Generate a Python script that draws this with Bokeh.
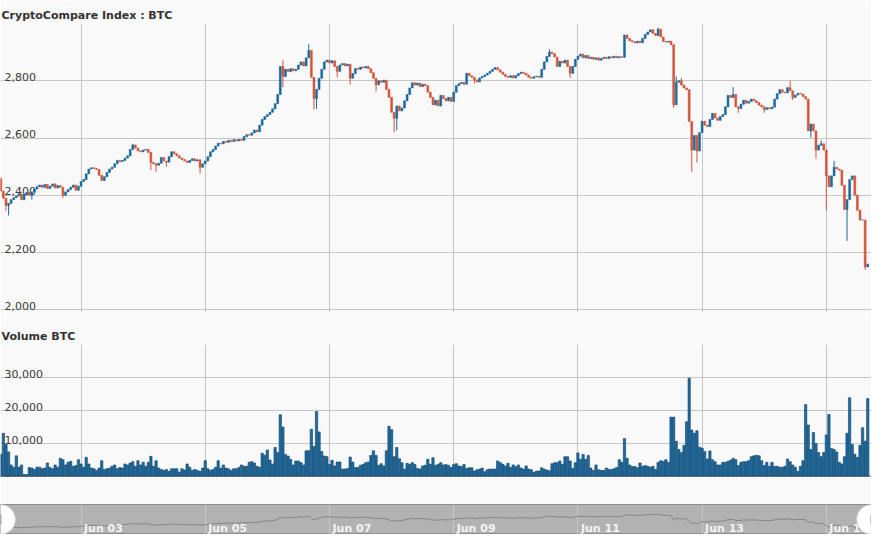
import math
import pandas as pd
from bokeh.plotting import figure
from bokeh.models import Range1d, Grid, FixedTicker, ColumnDataSource, Span
from bokeh.layouts import column
from bokeh.embed import file_html
from bokeh.resources import INLINE
from bokeh.core.properties import value

# ---------------- data (hourly BTC candles) ----------------
start_time = "2017-06-01 17:00"
first_open = 2458

close = [
    2415, 2390, 2365, 2372, 2385, 2392, 2398, 2405, 2385, 2402,
    2410, 2400, 2412, 2422, 2430, 2436, 2428, 2438, 2424, 2432,
    2440, 2426, 2434, 2428, 2400, 2412, 2420, 2428, 2436, 2418,
    2432, 2448, 2455, 2475, 2492, 2496, 2494, 2490, 2470, 2452,
    2465, 2480, 2492, 2498, 2510, 2522, 2518, 2522, 2530, 2538,
    2560, 2576, 2565, 2555, 2552, 2558, 2560, 2550, 2515, 2510,
    2505, 2512, 2532, 2520, 2516, 2535, 2552, 2545, 2538, 2530,
    2525, 2520, 2515, 2522, 2528, 2520, 2524, 2498, 2510, 2520,
    2535, 2552, 2560, 2572, 2582, 2580, 2588, 2585, 2592, 2588,
    2594, 2590, 2595, 2592, 2605, 2612, 2610, 2618, 2628, 2622,
    2645, 2665, 2675, 2682, 2690, 2702, 2720, 2752, 2850, 2815,
    2840, 2832, 2842, 2835, 2840, 2855, 2866, 2852, 2880, 2906,
    2812, 2738, 2770, 2809, 2840, 2866, 2872, 2862, 2870, 2850,
    2833, 2855, 2860, 2852, 2858, 2809, 2825, 2843, 2840, 2848,
    2845, 2850, 2842, 2828, 2809, 2786, 2800, 2795, 2802, 2770,
    2742, 2690, 2669, 2712, 2695, 2705, 2730, 2752, 2775, 2793,
    2785, 2792, 2780, 2788, 2783, 2760, 2742, 2716, 2732, 2712,
    2749, 2738, 2730, 2742, 2728, 2760, 2783, 2790, 2794, 2788,
    2826, 2818, 2812, 2803, 2796, 2810, 2815, 2820, 2826, 2833,
    2840, 2846, 2838, 2830, 2822, 2815, 2812, 2818, 2810, 2818,
    2825, 2830, 2826, 2820, 2812, 2809, 2814, 2816, 2812, 2840,
    2866, 2885, 2900, 2895, 2883, 2850, 2868, 2862, 2872, 2850,
    2826, 2850, 2875, 2886, 2893, 2880, 2888, 2878, 2882, 2875,
    2880, 2872, 2878, 2882, 2878, 2884, 2880, 2886, 2880, 2884,
    2882, 2960, 2948, 2940, 2936, 2932, 2938, 2933, 2948, 2962,
    2970, 2978, 2965, 2958, 2980, 2953, 2937, 2935, 2938, 2926,
    2716, 2795, 2800, 2785, 2775, 2769, 2658, 2558, 2609, 2555,
    2619, 2659, 2645, 2640, 2665, 2686, 2670, 2662, 2675, 2682,
    2709, 2749, 2742, 2752, 2709, 2703, 2718, 2732, 2722, 2728,
    2736, 2730, 2724, 2715, 2709, 2700, 2706, 2702, 2708, 2736,
    2755, 2769, 2760, 2758, 2776, 2765, 2742, 2750, 2756, 2754,
    2745, 2736, 2625, 2649, 2625, 2558, 2575, 2580, 2558, 2468,
    2430, 2468, 2498, 2492, 2488, 2435, 2351, 2385, 2455, 2468,
    2401, 2348, 2314, 2314, 2150, 2160,
]

# visible wick extremes (hour index -> price)
wick_high = {0: 2462, 51: 2580, 109: 2872, 119: 2928, 212: 2910, 254: 2985,
             261: 2815, 263: 2810, 283: 2778, 305: 2800, 317: 2592, 322: 2520}
wick_low = {2: 2345, 3: 2330, 12: 2385, 24: 2390, 58: 2488, 60: 2482, 64: 2500,
            77: 2476, 109: 2778, 121: 2700, 122: 2702, 130: 2812, 135: 2786,
            145: 2762, 152: 2620, 153: 2628, 183: 2790, 220: 2810, 260: 2705,
            267: 2482, 269: 2515, 285: 2688, 295: 2688, 306: 2733, 313: 2602,
            315: 2528, 319: 2348, 327: 2241, 334: 2140}

volume = [
    6760, 13100, 9700, 7450, 3500, 2840, 6270, 2840, 3500, 600,
    600, 2750, 2550, 2150, 2840, 2840, 2350, 2550, 4100, 2750,
    2350, 3500, 2840, 5500, 5100, 3500, 4300, 4600, 3100, 3300,
    5100, 3800, 2840, 5800, 3800, 2600, 2350, 1860, 2550, 4800,
    2150, 2350, 2550, 3100, 3500, 2350, 2750, 2550, 3800, 3500,
    4100, 4500, 3100, 4800, 3500, 4300, 3100, 4300, 6100, 3100,
    4800, 2550, 2150, 1860, 2150, 1570, 2350, 2350, 2350, 1370,
    2350, 2000, 3800, 2840, 1860, 2150, 1860, 1570, 2550, 4800,
    2350, 1860, 2150, 2840, 4800, 2550, 3500, 2550, 2350, 1860,
    2350, 2350, 2750, 3500, 3100, 3100, 4300, 4500, 4100, 3100,
    2840, 7050, 6470, 8040, 5000, 3800, 8800, 7250,
    18700, 15000, 6700, 6200, 5200, 3500, 4700, 4700, 4200, 3500,
    7800, 7800, 14300, 9100, 19700, 13500, 7600, 6200, 6000, 3700,
    4900, 3200, 4400, 4400, 2250, 2250, 2450, 5900, 4400, 2750,
    2750, 3400, 3700, 4200, 4400, 6400, 7800, 6400, 3400, 3900,
    3200, 7800, 15200, 14200, 6000, 8800, 5400, 4200, 2250, 4000,
    3700, 4200, 3600, 2450, 2250, 3200, 3400, 5200, 3700, 5700,
    3400, 3700, 4200, 3500, 3600, 3400, 2750, 3600, 3900, 3200,
    3000, 3600, 2450, 2650, 2650, 1650, 2050, 2250, 2550, 1450,
    2050, 2250, 2250, 2250, 4700, 4200, 3700, 3200, 4000, 2750,
    3500, 2950, 3500, 2600, 2250, 3200, 2250, 2050, 1270, 1650,
    1650, 2650, 2250, 1950, 1750, 3900, 4200, 4200, 4700, 3700,
    6000, 6000, 4700, 2450, 4200, 7150, 5200, 6700, 5200, 6400,
    2550, 1860, 3500, 2050, 1860, 1860, 2550, 2150, 2150, 2350,
    2750, 5100, 4300, 11500, 5500, 3500, 3000, 3000, 2650, 4100,
    3100, 3300, 3100, 2840, 3100, 2150, 4300, 4800, 4600, 5100,
    4300, 18000, 18000, 10700, 8200, 7250, 9400, 16600, 29800, 14100,
    13100, 13900, 8900, 8600, 7550, 5300, 7750, 5100, 4500, 3500,
    3500, 4300, 4300, 4600, 5000, 5500, 5100, 3300, 4300, 4500,
    4500, 4800, 6000, 6270, 6470, 6270, 4800, 3300, 4300, 3100,
    4300, 3100, 3100, 2840, 2840, 3100, 5300, 4500, 3500, 2840,
    1570, 3100, 4800, 21800, 15600, 8200, 13300, 10000, 7250, 6000,
    7250, 12600, 18800, 8500, 8200, 7450, 4300, 3800, 6000, 13100,
    23900, 9700, 6760, 5800, 9400, 14800, 10700, 23600,
]

price_ticks = [2000, 2200, 2400, 2600, 2800, 3000]
price_labels = ["2,000", "2,200", "2,400", "2,600", "2,800"]
vol_ticks = [0, 10000, 20000, 30000, 40000]
vol_labels = ["0", "10,000", "20,000", "30,000"]
day_ticks = ["2017-06-03", "2017-06-05", "2017-06-07", "2017-06-09",
             "2017-06-11", "2017-06-13", "2017-06-15"]
day_labels = ["Jun 03", "Jun 05", "Jun 07", "Jun 09", "Jun 11", "Jun 13", "Jun 15"]

assert len(close) == len(volume), (len(close), len(volume))

# ---------------- derived table ----------------
n = len(close)
times = pd.date_range(start_time, periods=n, freq="h")
opens = [first_open] + close[:-1]
highs, lows = [], []
for i in range(n):
    hi = max(opens[i], close[i])
    lo = min(opens[i], close[i])
    highs.append(max(hi, wick_high.get(i, hi)))
    lows.append(min(lo, wick_low.get(i, lo)))

UP = "#1b6a9c"
DOWN = "#d4563c"
colors = [UP if c >= o else DOWN for o, c in zip(opens, close)]
src = ColumnDataSource(dict(
    t=times, open=opens, close=close, high=highs, low=lows,
    top=[max(o, c) for o, c in zip(opens, close)],
    bottom=[min(o, c) for o, c in zip(opens, close)],
    color=colors, vol=volume,
))

# ---------------- styling ----------------
W = 871
BG = "#f9f9f9"
GRID = "#c6c6c6"
FONT = "DejaVu Sans"
HOUR = 3600 * 1000


def ms(ts):
    return pd.Timestamp(ts).value // 10**6


x_start = pd.Timestamp("2017-06-01 16:53")
x_end = pd.Timestamp("2017-06-15 17:27")
xr = Range1d(start=x_start, end=x_end)
day_ms = [ms(d) for d in day_ticks]


def make_fig(height, y_range, title, min_top, min_bottom, bg=BG):
    p = figure(width=W, height=height, x_range=xr, y_range=y_range,
               x_axis_type=None, y_axis_type=None, toolbar_location=None,
               output_backend="svg", background_fill_color=bg,
               border_fill_color=BG, outline_line_color=None,
               min_border_left=0, min_border_right=0,
               min_border_top=min_top, min_border_bottom=min_bottom,
               title=title)
    if title:
        p.title.text_font = FONT
        p.title.text_font_size = "11px"
        p.title.text_font_style = "bold"
        p.title.text_color = "#333333"
        p.title.align = "left"
        p.title.offset = 1
        p.title.standoff = 4
    return p


def add_grids(p, yticks, color=GRID):
    p.add_layout(Grid(dimension=0, ticker=FixedTicker(ticks=day_ms),
                      grid_line_color=color))
    if yticks is not None:
        p.add_layout(Grid(dimension=1, ticker=FixedTicker(ticks=yticks),
                          grid_line_color=color))


def add_inside_labels(p, ticks, labels):
    s = ColumnDataSource(dict(x=[ms(x_start)] * len(labels),
                              y=ticks[:len(labels)], text=labels))
    p.text(x="x", y="y", text="text", source=s, text_font=value(FONT),
           text_font_size="11px", text_color="#3a3a3a", x_offset=4,
           y_offset=0, text_baseline="bottom", text_align="left")


# ---- price panel (a few dollars of room below the 2,000 line) ----
p1 = make_fig(312, Range1d(price_ticks[0] - 9, price_ticks[-1]),
              "CryptoCompare Index : BTC", 23, 0)
add_grids(p1, price_ticks)
add_inside_labels(p1, price_ticks, price_labels)
p1.segment(x0="t", y0="high", x1="t", y1="low", source=src,
           line_color="color", line_width=1)
p1.vbar(x="t", width=HOUR * 0.72, top="top", bottom="bottom", source=src,
        fill_color="color", line_color="color", line_width=0.6)

# ---- volume panel ----
p2 = make_fig(192, Range1d(vol_ticks[0], vol_ticks[-1]), "Volume BTC", 32, 28)
add_grids(p2, vol_ticks)
add_inside_labels(p2, vol_ticks, vol_labels)
p2.vbar(x="t", width=HOUR * 0.9, top="vol", bottom=0, source=src,
        fill_color="#1d6da3", line_color="#123f61", line_width=0.6)
p2.add_layout(Span(location=vol_ticks[0], dimension="width",
                   line_color="#26384a", line_width=1.5))

# ---- navigator ----
p3 = make_fig(30, Range1d(2090, 3410), None, 0, 0, bg="#b2b2b2")
p3.outline_line_color = "#8f8f8f"
add_grids(p3, None, color="#c8c8c8")
p3.line(x="t", y="close", source=src, line_color="#858585", line_width=1)
nav_src = ColumnDataSource(dict(x=day_ms, y=[2090] * len(day_ms), text=day_labels))
p3.text(x="x", y="y", text="text", source=nav_src, text_font=value(FONT),
        text_font_size="11px", text_font_style="bold", text_color="#f4f4f4",
        x_offset=3, y_offset=0, text_baseline="bottom", text_align="left")
handle_src = ColumnDataSource(dict(x=[ms(x_start), ms(x_end)], y=[2750, 2750]))
p3.scatter(x="x", y="y", source=handle_src, marker="circle", size=30,
           fill_color="white", line_color="#cccccc")
p3.scatter(x="x", y="y", source=handle_src, marker="dash", size=10,
           angle=math.pi / 2, line_color="#9a9a9a", line_width=2)

layout = column(p1, p2, p3, spacing=0)
open("out.html", "w").write(file_html(layout, INLINE))
